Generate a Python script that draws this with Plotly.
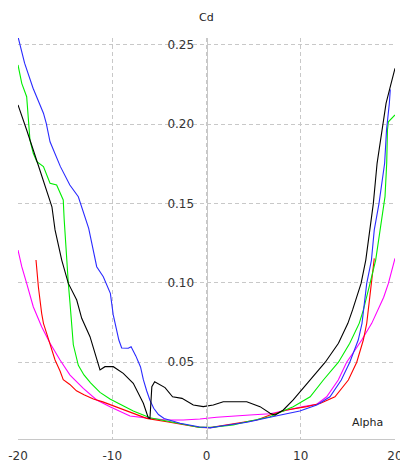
import plotly.graph_objects as go

# ---- data ----
blue_alpha = [-20, -19.3, -18.4, -17.3, -17.0, -16.6, -15.5, -14.5, -13.6, -12.5, -11.65, -10.95,
              -10.2, -9.9, -9.6, -9.3, -9.0, -8.3, -8.0, -7.5, -7.0, -6.7, -6.35, -6.0, -5.6, -5.1,
              -4.5, -3.9, -2.8, -0.7, 0.4, 1.4, 4.3, 7.1, 9.9, 11.7, 13.1, 14.3, 15.2, 16.1, 16.5,
              17.0, 17.5, 17.8, 18.3, 18.9, 19.1, 19.4, 19.5]
blue_cd = [0.2552, 0.2385, 0.2227, 0.2070, 0.2006, 0.1890, 0.1733, 0.1617, 0.1543, 0.1344, 0.1102, 0.1039,
           0.0934, 0.0800, 0.0720, 0.0640, 0.0590, 0.0588, 0.0598, 0.0540, 0.0470, 0.0390, 0.0320, 0.0260,
           0.0210, 0.0170, 0.0145, 0.0136, 0.0115, 0.0092, 0.0086, 0.0096, 0.0122, 0.0158, 0.0192, 0.0230,
           0.0282, 0.0388, 0.0500, 0.0640, 0.0745, 0.0997, 0.1144, 0.1334, 0.1500, 0.1754, 0.1964, 0.2132,
           0.2220]

green_alpha = [-20, -19.6, -19.08, -18.9, -18.73, -18.38, -18.0, -17.3, -16.6, -15.9, -15.2, -15.1, -14.83,
               -14.66, -14.48, -14.38, -14.13, -13.6, -13.0, -12.3, -11.3, -10.24, -9.53, -7.77, -6.0, -4.22,
               -2.1, -0.7, 0.72, 2.84, 4.27, 6.74, 7.8, 9.2, 11.0, 12.4, 14.0, 15.2, 16.2, 16.64, 17.35,
               17.95, 18.83, 18.94, 19.12, 19.2, 19.3, 19.65, 20]
green_cd = [0.2374, 0.2258, 0.2174, 0.2027, 0.1900, 0.1817, 0.1764, 0.1733, 0.1628, 0.1617, 0.1523, 0.1400,
            0.1124, 0.0997, 0.0871, 0.0777, 0.0610, 0.0480, 0.0420, 0.0370, 0.0310, 0.0268, 0.0245, 0.0193,
            0.0150, 0.0128, 0.0106, 0.0089, 0.0091, 0.0104, 0.0125, 0.0156, 0.0185, 0.0220, 0.0282, 0.0388,
            0.0500, 0.0619, 0.0745, 0.0829, 0.0997, 0.1144, 0.1500, 0.1544, 0.1754, 0.1964, 0.2016, 0.2038,
            0.2059]

black_alpha = [-20, -19.6, -19.08, -18.38, -17.67, -16.96, -16.4, -16.07, -15.36, -14.66, -13.77, -13.24,
               -12.36, -11.3, -10.77, -9.89, -8.83, -7.77, -6.7, -6.18, -6.0, -5.8, -5.5, -4.4, -3.6, -2.6,
               -1.4, -0.34, 0.72, 1.78, 3.2, 4.27, 5.68, 6.74, 7.27, 8.15, 9.2, 11.0, 12.6, 14.0, 15.0,
               15.5, 16.4, 16.9, 17.7, 18.1, 18.6, 19.05, 19.5, 20]
black_cd = [0.2122, 0.2048, 0.1964, 0.1838, 0.1712, 0.1586, 0.1480, 0.1334, 0.1144, 0.0997, 0.0892, 0.0777,
            0.0661, 0.0451, 0.0472, 0.0472, 0.0430, 0.0367, 0.0241, 0.0150, 0.0146, 0.0346, 0.0377, 0.0340,
            0.0282, 0.0272, 0.0230, 0.0220, 0.0230, 0.0251, 0.0251, 0.0251, 0.0220, 0.0178, 0.0167, 0.0199,
            0.0262, 0.0388, 0.0500, 0.0620, 0.0745, 0.0830, 0.0997, 0.1144, 0.1500, 0.1754, 0.1964, 0.2132,
            0.2237, 0.2353]

red_alpha = [-18.09, -17.84, -17.49, -17.3, -16.96, -16.6, -16.25, -16.07, -15.54, -15.2, -14.5, -13.8,
             -13.0, -12.0, -11.0, -9.5, -7.77, -6.35, -4.22, -2.1, -0.7, 0.4, 1.43, 3.55, 5.33, 6.74, 8.5,
             10.63, 12.04, 13.63, 15.05, 15.94, 16.64, 17.0, 17.17, 17.45, 17.53, 17.8]
red_cd = [0.1144, 0.0976, 0.0808, 0.0745, 0.0682, 0.0619, 0.0556, 0.0514, 0.0445, 0.0390, 0.0360, 0.0320,
          0.0295, 0.0268, 0.0250, 0.0215, 0.0178, 0.0146, 0.0125, 0.0104, 0.0089, 0.0088, 0.0098, 0.0115,
          0.0136, 0.0167, 0.0199, 0.0220, 0.0240, 0.0282, 0.0388, 0.0500, 0.0640, 0.0745, 0.0829, 0.0955,
          0.0997, 0.1155]

magenta_alpha = [-20, -19.6, -19.08, -18.38, -17.49, -16.6, -15.54, -14.48, -13.07, -11.65, -10.24, -8.12,
                 -6.0, -4.22, -2.46, -0.7, 1.08, 3.2, 4.6, 6.74, 8.5, 10.27, 11.7, 12.75, 13.98, 14.87, 15.8,
                 16.47, 17.53, 18.2, 18.8, 19.3, 20]
magenta_cd = [0.1207, 0.1102, 0.0997, 0.0850, 0.0724, 0.0619, 0.0514, 0.0419, 0.0335, 0.0262, 0.0220, 0.0161,
              0.0146, 0.0136, 0.0136, 0.0142, 0.0153, 0.0164, 0.0167, 0.0175, 0.0199, 0.0220, 0.0235, 0.0282,
              0.0388, 0.0500, 0.0580, 0.0640, 0.0745, 0.0830, 0.0910, 0.0997, 0.1155]

x_ticks = [-20, -10, 0, 10, 20]
y_ticks = [0.05, 0.10, 0.15, 0.20, 0.25]
y_tick_labels = ["0.05", "0.10", "0.15", "0.20", "0.25"]

# ---- figure ----
fig = go.Figure()
series = [
    (magenta_alpha, magenta_cd, "#ff00ff"),
    (red_alpha, red_cd, "#ff0000"),
    (green_alpha, green_cd, "#00ee00"),
    (blue_alpha, blue_cd, "#2a2aff"),
    (black_alpha, black_cd, "#000000"),
]
for xs, ys, col in series:
    fig.add_trace(go.Scatter(x=xs, y=ys, mode="lines", line=dict(color=col, width=1.1),
                             showlegend=False, hoverinfo="skip"))

grid_col = "#c8c8c8"
fig.update_layout(
    width=400, height=464,
    margin=dict(l=18, r=5, t=38, b=25, autoexpand=False),
    paper_bgcolor="white", plot_bgcolor="white",
    font=dict(family="DejaVu Sans", size=12, color="#333333"),
    xaxis=dict(range=[-20, 20], tickvals=x_ticks, ticktext=[str(v) for v in x_ticks],
               automargin=False,
               showgrid=True, gridcolor=grid_col, griddash="4px,3px", gridwidth=1,
               zeroline=False, showline=True, linecolor=grid_col, linewidth=1,
               ticks="outside", ticklen=6, tickcolor="rgba(0,0,0,0)",
               ticklabeloverflow="allow",
               tickfont=dict(size=12, color="#333333")),
    yaxis=dict(range=[0.0016, 0.2544], tickvals=y_ticks, ticktext=y_tick_labels,
               automargin=False,
               anchor="free", position=0.5, side="left",
               showgrid=True, gridcolor=grid_col, griddash="4px,3px", gridwidth=1,
               zeroline=False, showline=True, linecolor=grid_col, linewidth=1,
               ticks="outside", ticklen=10, tickcolor="rgba(0,0,0,0)",
               tickfont=dict(size=12, color="#333333")),
    annotations=[
        dict(text="Cd", xref="paper", yref="paper", x=0.5, y=1 + 21 / 401,
             xanchor="center", yanchor="middle", showarrow=False,
             font=dict(size=11, color="#222222")),
        dict(text="Alpha", xref="paper", yref="paper", x=0.927, y=0.041,
             xanchor="center", yanchor="middle", showarrow=False,
             font=dict(size=11, color="#222222")),
    ],
)

fig.write_html("out.html")
